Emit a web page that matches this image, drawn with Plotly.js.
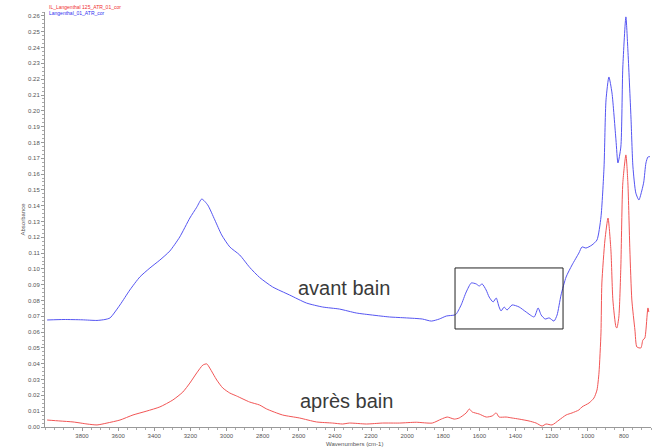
<!DOCTYPE html>
<html>
<head>
<meta charset="utf-8">
<script src="https://cdn.plot.ly/plotly-3.0.1.min.js"></script>
<style>html,body{margin:0;padding:0;background:#fff;}#chart{width:666px;height:448px;}</style>
</head>
<body>
<div id="chart"></div>
<script>
// Wavenumbers (cm-1) and absorbance, "avant bain" (blue)
const blueWavenumbers = [3993, 3900, 3800, 3717, 3673, 3645, 3590, 3535, 3480, 3424, 3369, 3314, 3259, 3203, 3165, 3137, 3104, 3065, 3027, 2982, 2927, 2872, 2817, 2745, 2651, 2557, 2468, 2375, 2281, 2192, 2098, 2004, 1916, 1866, 1822, 1783, 1739, 1728, 1701, 1673, 1645, 1618, 1601, 1585, 1563, 1546, 1524, 1507, 1491, 1480, 1463, 1447, 1419, 1380, 1341, 1297, 1275, 1258, 1236, 1214, 1187, 1170, 1148, 1120, 1087, 1049, 1032, 1010, 977, 949, 927, 910, 899, 883, 866, 844, 833, 817, 806, 789, 778, 761, 750, 734, 717, 700, 690, 678, 667, 656];
const blueAbsorbance = [0.0677, 0.0680, 0.0678, 0.0674, 0.0680, 0.0690, 0.0772, 0.0867, 0.0949, 0.1006, 0.1056, 0.1113, 0.1202, 0.1322, 0.1390, 0.1442, 0.1404, 0.1310, 0.1215, 0.1139, 0.1088, 0.1010, 0.0946, 0.0886, 0.0835, 0.0784, 0.0759, 0.0746, 0.0721, 0.0708, 0.0696, 0.0690, 0.0683, 0.0670, 0.0683, 0.0702, 0.0708, 0.0715, 0.0772, 0.0854, 0.0911, 0.0905, 0.0892, 0.0905, 0.0867, 0.0822, 0.0791, 0.0816, 0.0759, 0.0734, 0.0759, 0.0740, 0.0772, 0.0759, 0.0727, 0.0696, 0.0753, 0.0708, 0.0683, 0.0690, 0.0670, 0.0708, 0.0835, 0.0949, 0.1025, 0.1101, 0.1139, 0.1132, 0.1151, 0.1183, 0.1328, 0.1645, 0.2069, 0.2214, 0.2113, 0.1816, 0.1670, 0.1771, 0.2277, 0.2594, 0.2385, 0.1961, 0.1645, 0.1480, 0.1436, 0.1499, 0.1550, 0.1670, 0.1708, 0.1710];

// Wavenumbers (cm-1) and absorbance, "après bain" (red)
const redWavenumbers = [3993, 3922, 3850, 3772, 3717, 3662, 3590, 3518, 3441, 3369, 3297, 3242, 3203, 3165, 3131, 3109, 3093, 3054, 3021, 2982, 2944, 2872, 2817, 2778, 2690, 2596, 2502, 2413, 2358, 2319, 2225, 2137, 2043, 1949, 1861, 1811, 1778, 1739, 1712, 1673, 1656, 1640, 1601, 1562, 1529, 1507, 1491, 1452, 1419, 1380, 1325, 1286, 1253, 1231, 1198, 1159, 1120, 1087, 1049, 1032, 993, 966, 949, 938, 927, 922, 905, 888, 872, 861, 844, 839, 828, 817, 806, 789, 778, 767, 756, 739, 728, 706, 695, 684, 678, 667, 662];
const redAbsorbance = [0.0044, 0.0038, 0.0032, 0.0019, 0.0013, 0.0025, 0.0044, 0.0076, 0.0101, 0.0127, 0.0171, 0.0221, 0.0278, 0.0342, 0.0392, 0.0399, 0.0373, 0.0297, 0.0247, 0.0215, 0.0196, 0.0158, 0.0139, 0.0114, 0.0076, 0.0057, 0.0032, 0.0025, 0.0019, 0.0025, 0.0019, 0.0025, 0.0025, 0.0030, 0.0025, 0.0050, 0.0063, 0.0050, 0.0057, 0.0089, 0.0114, 0.0095, 0.0082, 0.0063, 0.0070, 0.0089, 0.0063, 0.0063, 0.0057, 0.0050, 0.0038, 0.0025, 0.0006, 0.0019, 0.0013, 0.0044, 0.0076, 0.0089, 0.0108, 0.0127, 0.0152, 0.0183, 0.0234, 0.0342, 0.0595, 0.0911, 0.1183, 0.1322, 0.1120, 0.0803, 0.0633, 0.0626, 0.0696, 0.1012, 0.1544, 0.1721, 0.1544, 0.1120, 0.0803, 0.0614, 0.0506, 0.0500, 0.0550, 0.0563, 0.0614, 0.0753, 0.0727];

const seriesNames = ["IL_Langenthal 125_ATR_01_cor", "Langenthal_01_ATR_cor"];
const curveLabels = ["avant bain", "après bain"];
const xTickValues = [3800, 3600, 3400, 3200, 3000, 2800, 2600, 2400, 2200, 2000, 1800, 1600, 1400, 1200, 1000, 800];
const yTickValues = [0.00, 0.01, 0.02, 0.03, 0.04, 0.05, 0.06, 0.07, 0.08, 0.09, 0.10, 0.11, 0.12, 0.13, 0.14, 0.15, 0.16, 0.17, 0.18, 0.19, 0.20, 0.21, 0.22, 0.23, 0.24, 0.25, 0.26];
const boxWavenumbers = [1735, 1137];
const boxAbsorbance = [0.062, 0.1006];

const traces = [
  {x: redWavenumbers, y: redAbsorbance, type: 'scatter', mode: 'lines', name: seriesNames[0],
   line: {color: '#f25555', width: 1, shape: 'spline', smoothing: 0.6}},
  {x: blueWavenumbers, y: blueAbsorbance, type: 'scatter', mode: 'lines', name: seriesNames[1],
   line: {color: '#5555f2', width: 1, shape: 'spline', smoothing: 0.6}}
];

const tickFont = {family: 'Liberation Sans, Arial, sans-serif', size: 6, color: '#555'};

const layout = {
  width: 666, height: 448,
  margin: {l: 45, r: 15, t: 12, b: 21},
  paper_bgcolor: '#fff', plot_bgcolor: '#fff',
  showlegend: false,
  xaxis: {
    range: [4005, 650],
    tickmode: 'array', tickvals: xTickValues, ticktext: xTickValues.map(String),
    showgrid: false, zeroline: false,
    showline: true, linecolor: '#999', linewidth: 1,
    ticks: 'outside', ticklen: 3, tickcolor: '#999',
    minor: {dtick: 50, ticks: 'outside', ticklen: 2, tickcolor: '#aaa', showgrid: false},
    tickfont: tickFont
  },
  yaxis: {
    range: [0, 0.2625],
    tickmode: 'array', tickvals: yTickValues, ticktext: yTickValues.map(v => v.toFixed(2)),
    showgrid: false, zeroline: false,
    showline: true, linecolor: '#999', linewidth: 1,
    ticks: 'outside', ticklen: 3, tickcolor: '#999',
    minor: {dtick: 0.0025, ticks: 'outside', ticklen: 2, tickcolor: '#aaa', showgrid: false},
    tickfont: tickFont
  },
  shapes: [
    {type: 'rect', xref: 'x', yref: 'y',
     x0: boxWavenumbers[0], x1: boxWavenumbers[1], y0: boxAbsorbance[0], y1: boxAbsorbance[1],
     line: {color: '#222', width: 1}, fillcolor: 'rgba(0,0,0,0)'}
  ],
  annotations: [
    {text: seriesNames[0], xref: 'paper', yref: 'paper', x: 0.003, y: 1.0, yshift: 5,
     xanchor: 'left', yanchor: 'middle', showarrow: false,
     font: {family: 'Liberation Sans, Arial, sans-serif', size: 5, color: '#f03030'}},
    {text: seriesNames[1], xref: 'paper', yref: 'paper', x: 0.003, y: 1.0, yshift: -1,
     xanchor: 'left', yanchor: 'middle', showarrow: false,
     font: {family: 'Liberation Sans, Arial, sans-serif', size: 5, color: '#3030f0'}},
    {text: 'Absorbance', xref: 'paper', yref: 'paper', x: 0, xshift: -23, y: 0.5, textangle: -90,
     xanchor: 'center', yanchor: 'middle', showarrow: false,
     font: {family: 'Liberation Sans, Arial, sans-serif', size: 6, color: '#555'}},
    {text: 'Wavenumbers (cm-1)', xref: 'paper', yref: 'paper', x: 0.51, y: 0, yshift: -17,
     xanchor: 'center', yanchor: 'middle', showarrow: false,
     font: {family: 'Liberation Sans, Arial, sans-serif', size: 6, color: '#555'}},
    {text: curveLabels[0], xref: 'x', yref: 'y', x: 2347, y: 0.088,
     xanchor: 'center', yanchor: 'middle', showarrow: false,
     font: {family: 'Liberation Sans, Arial, sans-serif', size: 20, color: '#3a3a3a'}},
    {text: curveLabels[1], xref: 'x', yref: 'y', x: 2336, y: 0.0164,
     xanchor: 'center', yanchor: 'middle', showarrow: false,
     font: {family: 'Liberation Sans, Arial, sans-serif', size: 20, color: '#3a3a3a'}}
  ]
};

Plotly.newPlot('chart', traces, layout, {displayModeBar: false, staticPlot: true});
</script>
</body>
</html>
